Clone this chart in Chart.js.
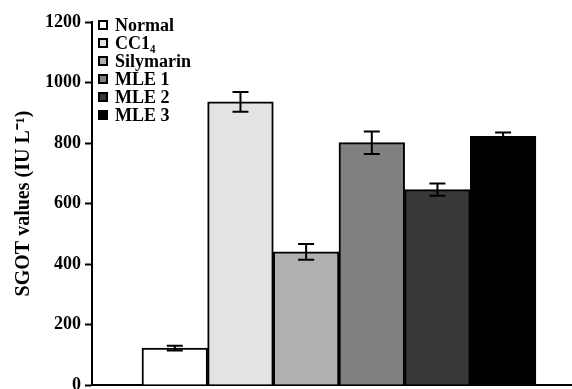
<!DOCTYPE html>
<html>
<head>
<meta charset="utf-8">
<title>SGOT values</title>
<script src="https://cdn.jsdelivr.net/npm/chart.js@4.4.1/dist/chart.umd.min.js"></script>
<style>
  html, body { margin: 0; padding: 0; background: #fff; }
  #chart { display: block; }
</style>
</head>
<body>
<canvas id="chart" width="572" height="389"></canvas>
<script>
// groups
const groups = ["Normal", "CC1\u2084", "Silymarin", "MLE 1", "MLE 2", "MLE 3"];
const sgotValues = [122, 936, 440, 801, 646, 822];
const sgotErrors = [8, 33, 26, 37, 20, 13];
const barColors = ["#ffffff", "#e3e3e3", "#b0b0b0", "#808080", "#383838", "#000000"];
const yTicks = [0, 200, 400, 600, 800, 1000, 1200];

const serif = "Liberation Serif, Times New Roman, Times, serif";

// error bars drawn on top of each bar, using the y scale
const errorBars = {
  id: 'errorBars',
  afterDatasetsDraw(chart) {
    const ctx = chart.ctx;
    const y = chart.scales.y;
    const meta = chart.getDatasetMeta(0);
    ctx.save();
    ctx.strokeStyle = '#000';
    ctx.lineWidth = 2;
    meta.data.forEach((bar, i) => {
      const top = y.getPixelForValue(sgotValues[i] + sgotErrors[i]);
      const bot = y.getPixelForValue(sgotValues[i] - sgotErrors[i]);
      const half = 8;
      ctx.beginPath();
      ctx.moveTo(bar.x, top);
      ctx.lineTo(bar.x, bot);
      ctx.moveTo(bar.x - half, top);
      ctx.lineTo(bar.x + half, top);
      ctx.moveTo(bar.x - half, bot);
      ctx.lineTo(bar.x + half, bot);
      ctx.stroke();
    });
    ctx.restore();
  }
};

// legend in the top-left corner of the plot
const cornerLegend = {
  id: 'cornerLegend',
  afterDraw(chart) {
    const ctx = chart.ctx;
    const area = chart.chartArea;
    ctx.save();
    ctx.font = 'bold 18px ' + serif;
    ctx.textBaseline = 'middle';
    ctx.textAlign = 'left';
    groups.forEach((name, i) => {
      const cy = area.top + 3 + i * 18;
      const bx = area.left + 7;
      ctx.fillStyle = barColors[i];
      ctx.fillRect(bx, cy - 4, 8, 8);
      ctx.strokeStyle = '#000';
      ctx.lineWidth = 2;
      ctx.strokeRect(bx, cy - 4, 8, 8);
      ctx.fillStyle = '#000';
      ctx.fillText(name, bx + 16, cy + 1);
    });
    ctx.restore();
  }
};

document.addEventListener("DOMContentLoaded", () => {
  new Chart(document.getElementById('chart'), {
    type: 'bar',
    data: {
      labels: groups,
      datasets: [{
        data: sgotValues.map((v, i) => ({ x: i + 1, y: v })),
        backgroundColor: barColors,
        borderColor: '#000',
        borderWidth: 2,
        barPercentage: 1,
        categoryPercentage: 1
      }]
    },
    options: {
      responsive: false,
      animation: false,
      layout: { padding: { top: 22, right: 0, bottom: 4, left: 0 } },
      plugins: {
        legend: { display: false },
        tooltip: { enabled: false }
      },
      scales: {
        x: {
          type: 'linear',
          offset: false,
          min: -0.261,
          max: 7.049,
          grid: { display: false },
          border: { display: true, color: '#000', width: 2 },
          ticks: { display: false },
          afterFit(scale) { scale.height = 0; }
        },
        y: {
          min: 0,
          max: 1200,
          afterBuildTicks(scale) { scale.ticks = yTicks.map(v => ({ value: v })); },
          afterFit(scale) {
            scale.width = 92;
            scale.paddingTop = 0;
            scale.paddingBottom = 0;
          },
          grid: {
            drawOnChartArea: false,
            drawTicks: true,
            tickLength: 7,
            tickColor: '#000',
            tickWidth: 2
          },
          border: { display: true, color: '#000', width: 2 },
          ticks: {
            color: '#000',
            padding: 4,
            callback: v => String(v),
            font: { family: serif, size: 18, weight: 'bold' }
          },
          title: {
            display: true,
            text: 'SGOT values (IU L\u207B\u00B9)',
            color: '#000',
            padding: { top: 12, bottom: 0 },
            font: { family: serif, size: 20, weight: 'bold' }
          }
        }
      }
    },
    plugins: [errorBars, cornerLegend]
  });
});
</script>
</body>
</html>
